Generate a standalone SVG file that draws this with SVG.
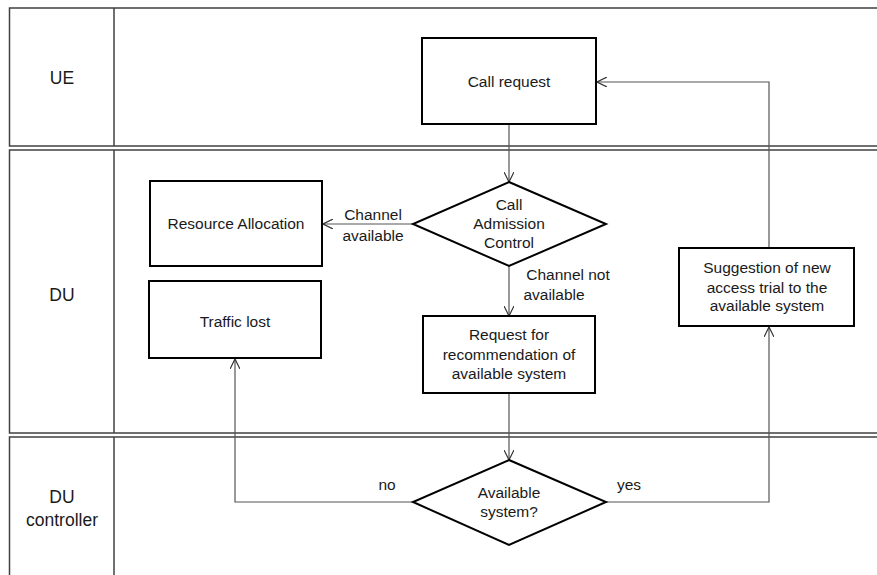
<svg xmlns="http://www.w3.org/2000/svg" width="877" height="575" viewBox="0 0 877 575">
<defs>
<style>
.lane{fill:none;stroke:#404040;stroke-width:1.5}
.box{fill:#fff;stroke:#000;stroke-width:2}
.conn{fill:none;stroke:#555;stroke-width:1.2}
text{font-family:"Liberation Sans",Arial,sans-serif;font-size:15.5px;fill:#1a1a1a;text-anchor:middle}
.lbl{font-size:17.5px}
</style>
<marker id="arr" viewBox="0 0 10 10" refX="10" refY="5" markerWidth="10" markerHeight="10" markerUnits="userSpaceOnUse" orient="auto">
<path d="M0,0 L10,5 L0,10" fill="none" stroke="#333" stroke-width="1.2"/>
</marker>
</defs>
<rect width="877" height="575" fill="#fff"/>
<g id="lanes">
<g id="lane-ue"><rect class="lane" x="9.5" y="8" width="880" height="138"/><line class="lane" x1="114" y1="8" x2="114" y2="146"/><text class="lbl" x="62" y="84">UE</text></g>
<g id="lane-du"><rect class="lane" x="9.5" y="150" width="880" height="283"/><line class="lane" x1="114" y1="150" x2="114" y2="433"/><text class="lbl" x="62" y="301">DU</text></g>
<g id="lane-duc"><rect class="lane" x="9.5" y="437" width="880" height="150"/><line class="lane" x1="114" y1="437" x2="114" y2="580"/><text class="lbl" x="62" y="503">DU</text><text class="lbl" x="62" y="526">controller</text></g>
</g>
<g id="connectors">
<line class="conn" x1="509" y1="124" x2="509" y2="182" marker-end="url(#arr)"/>
<line class="conn" x1="413" y1="224" x2="323" y2="224" marker-end="url(#arr)"/>
<line class="conn" x1="509" y1="266" x2="509" y2="316" marker-end="url(#arr)"/>
<line class="conn" x1="509" y1="393" x2="509" y2="460" marker-end="url(#arr)"/>
<polyline class="conn" points="413,502 235,502 235,359" marker-end="url(#arr)"/>
<polyline class="conn" points="606,502 769,502 769,327" marker-end="url(#arr)"/>
<polyline class="conn" points="769,248 769,82 597,82" marker-end="url(#arr)"/>
<text x="373" y="220">Channel</text>
<text x="373" y="241">available</text>
<text x="568" y="280">Channel not</text>
<text x="554" y="300">available</text>
<text x="387" y="490">no</text>
<text x="629" y="490">yes</text>
</g>
<g id="call-request"><rect class="box" x="422" y="38" width="174" height="86"/><text x="509" y="87">Call request</text></g>
<g id="cac"><polygon class="box" points="509,182 606,224 509,266 413,224"/><text x="509" y="210">Call</text><text x="509" y="229">Admission</text><text x="509" y="248">Control</text></g>
<g id="resource-allocation"><rect class="box" x="150" y="181" width="172" height="85"/><text x="236" y="229">Resource Allocation</text></g>
<g id="traffic-lost"><rect class="box" x="149" y="281" width="172" height="77"/><text x="235" y="327">Traffic lost</text></g>
<g id="request-rec"><rect class="box" x="423" y="316" width="172" height="77"/><text x="509" y="340">Request for</text><text x="509" y="360">recommendation of</text><text x="509" y="379">available system</text></g>
<g id="suggestion"><rect class="box" x="679" y="248" width="175" height="78"/><text x="767" y="273">Suggestion of new</text><text x="767" y="293">access trial to the</text><text x="767" y="311">available system</text></g>
<g id="available-system"><polygon class="box" points="509,460 606,502 509,545 413,502"/><text x="509" y="498">Available</text><text x="509" y="517">system?</text></g>
</svg>
